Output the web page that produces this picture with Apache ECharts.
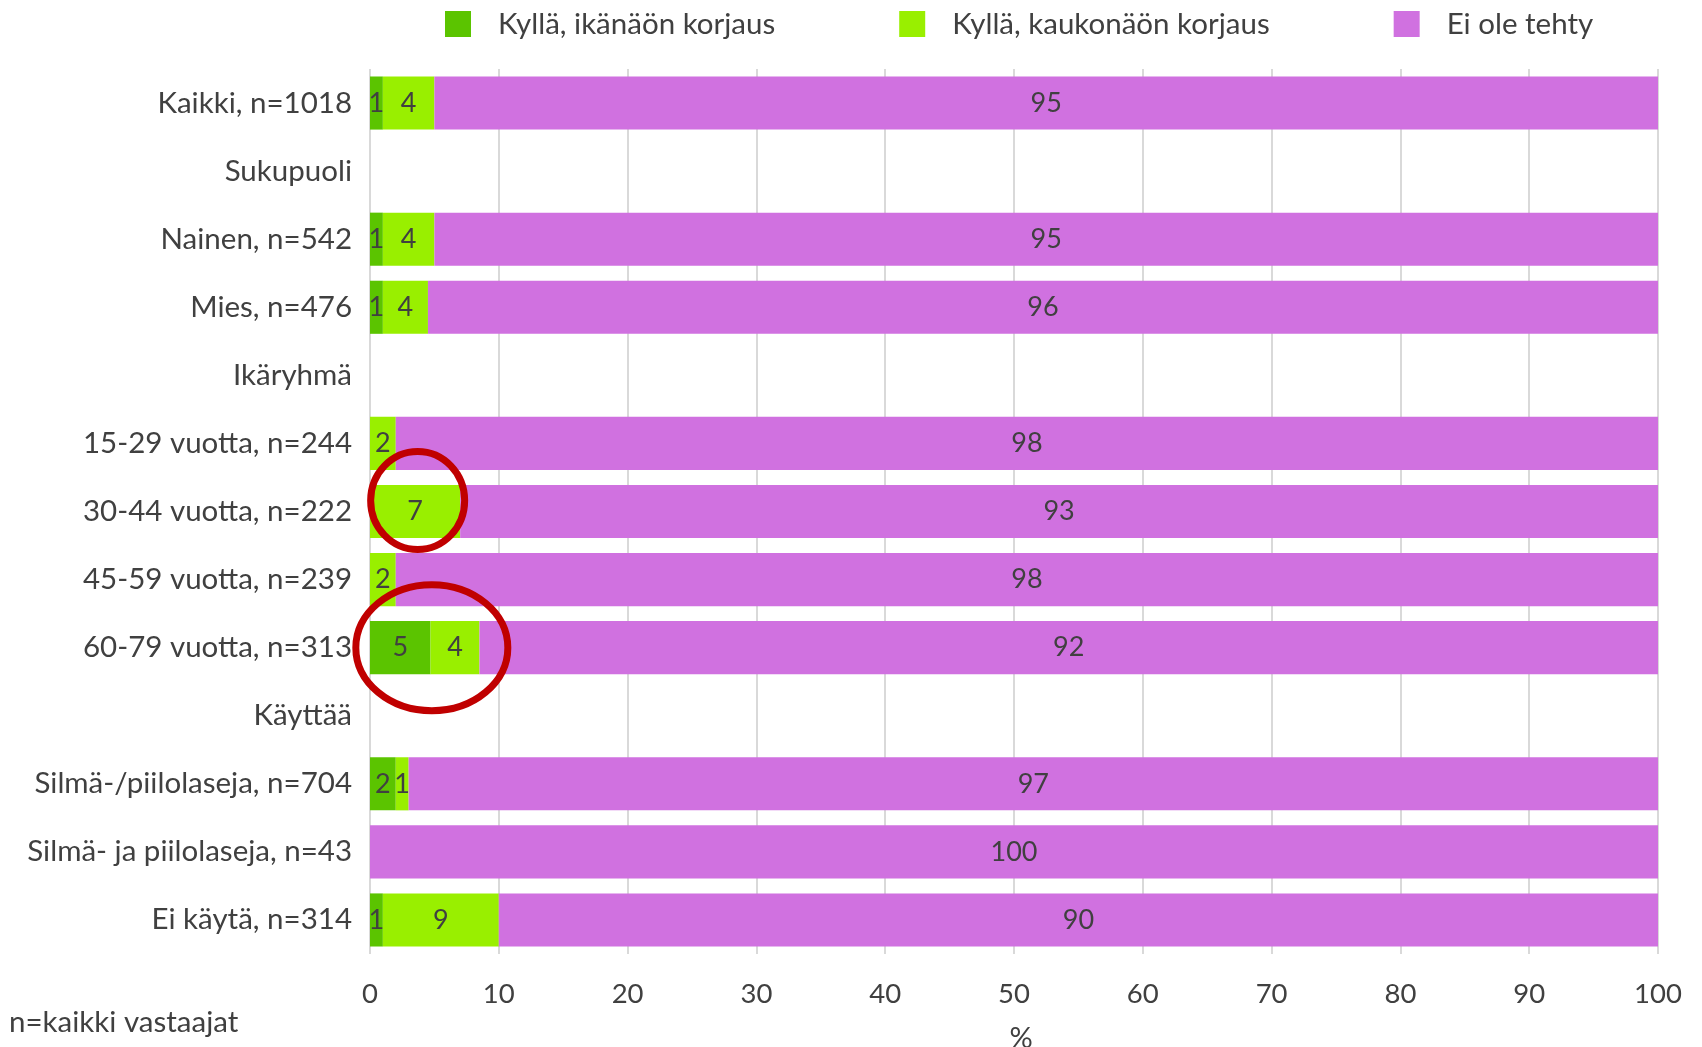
<!DOCTYPE html>
<html>
<head>
<meta charset="utf-8">
<script src="https://cdn.jsdelivr.net/npm/echarts@6/dist/echarts.min.js"></script>
<style>
html, body { margin: 0; padding: 0; background: #fff; }
#main { width: 1702px; height: 1047px; }
</style>
</head>
<body>
<div id="main"></div>
<script>
// rivit ylhäältä alas
var categories = ['Kaikki, n=1018', 'Sukupuoli', 'Nainen, n=542', 'Mies, n=476', 'Ikäryhmä',
    '15-29 vuotta, n=244', '30-44 vuotta, n=222', '45-59 vuotta, n=239', '60-79 vuotta, n=313',
    'Käyttää', 'Silmä-/piilolaseja, n=704', 'Silmä- ja piilolaseja, n=43', 'Ei käytä, n=314'];
var seriesNames = ['Kyllä, ikänäön korjaus', 'Kyllä, kaukonäön korjaus', 'Ei ole tehty'];
var ikanako = [1, '-', 1, 1, '-', 0, 0, 0, 4.7, '-', 2, 0, 1];
var kaukonako = [4, '-', 4, 3.5, '-', 2, 7, 2, 3.8, '-', 1, 0, 9];
var eiTehty = [95, '-', 95, 95.5, '-', 98, 93, 98, 91.5, '-', 97, 100, 90];
var xTicks = [0, 10, 20, 30, 40, 50, 60, 70, 80, 90, 100];

var colors = ['#5BC400', '#99EF00', '#D071E0'];
var textColor = '#404040';
var font = 'Lato';

var chart = echarts.init(document.getElementById('main'));

function makeSeries(name, data, color) {
    return {
        name: name,
        type: 'bar',
        stack: 'total',
        data: data,
        barCategoryGap: '22%',
        itemStyle: { color: color },
        label: {
            show: true,
            position: 'inside',
            color: textColor,
            fontFamily: font,
            fontSize: 27,
            formatter: function (p) {
                if (p.value === '-' || !p.value) return '';
                return Math.round(p.value);
            }
        },
        emphasis: { disabled: true }
    };
}

var option = {
    animation: false,
    textStyle: { fontFamily: font, color: textColor },
    color: colors,
    legend: {
        top: 4,
        left: 440,
        itemWidth: 26,
        itemHeight: 26,
        itemGap: 124,
        icon: 'rect',
        textStyle: { fontSize: 29.5, color: textColor, fontFamily: font, padding: [0, 0, 0, 22] },
        data: seriesNames
    },
    grid: { left: 370, right: 44, top: 69, bottom: 93, outerBoundsMode: 'none' },
    xAxis: {
        type: 'value',
        min: 0,
        max: 100,
        interval: 10,
        name: '%',
        nameLocation: 'middle',
        nameGap: 70,
        nameTextStyle: { fontSize: 29, color: textColor, fontFamily: font, padding: [0, 0, 0, 14] },
        axisLine: { show: false },
        axisTick: { show: false },
        axisLabel: {
            fontSize: 27.5, color: textColor, fontFamily: font, margin: 26,
            formatter: function (v) { return xTicks.indexOf(v) >= 0 ? v : ''; }
        },
        splitLine: { show: true, lineStyle: { color: '#d9d9d9', width: 2 } }
    },
    yAxis: {
        type: 'category',
        inverse: true,
        data: categories,
        axisLine: { show: false },
        axisTick: { show: false },
        axisLabel: { fontSize: 29.5, color: textColor, fontFamily: font, margin: 18 }
    },
    series: [
        makeSeries(seriesNames[0], ikanako, colors[0]),
        makeSeries(seriesNames[1], kaukonako, colors[1]),
        makeSeries(seriesNames[2], eiTehty, colors[2])
    ]
};
chart.setOption(option);

// punaiset ympyrät korostukseen
var c1 = chart.convertToPixel({ xAxisIndex: 0, yAxisIndex: 0 }, [3.7, categories[6]]);
var c2 = chart.convertToPixel({ xAxisIndex: 0, yAxisIndex: 0 }, [4.8, categories[8]]);
chart.setOption({
    graphic: [
        {
            type: 'ellipse',
            shape: { cx: c1[0], cy: c1[1] - 11, rx: 47, ry: 49 },
            style: { fill: null, stroke: '#C00000', lineWidth: 7 },
            z: 100
        },
        {
            type: 'ellipse',
            shape: { cx: c2[0], cy: c2[1], rx: 76, ry: 63 },
            style: { fill: null, stroke: '#C00000', lineWidth: 7 },
            z: 100
        },
        {
            type: 'text',
            left: 9,
            top: 1007,
            style: { text: 'n=kaikki vastaajat', fontSize: 29.5, fill: textColor, fontFamily: font }
        }
    ]
});
</script>
</body>
</html>
